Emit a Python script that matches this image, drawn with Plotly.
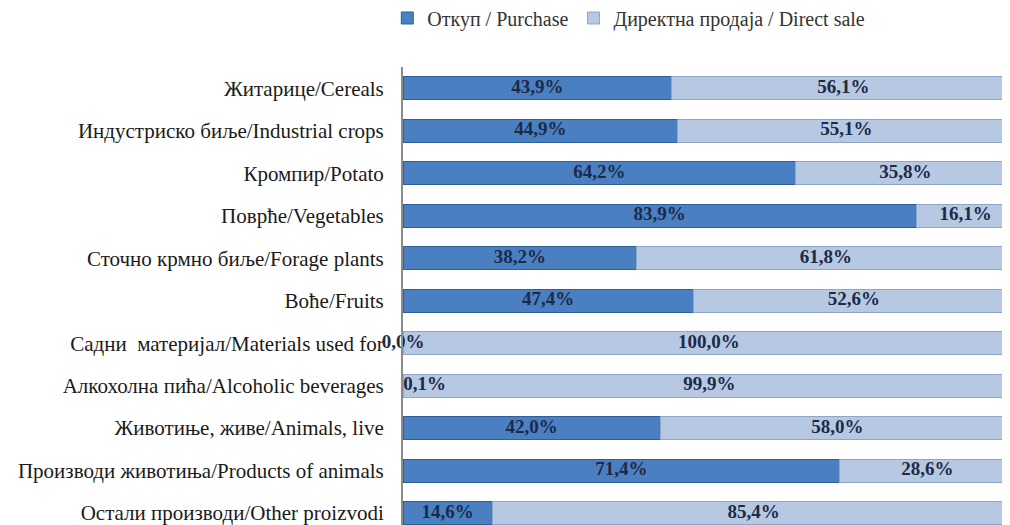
import plotly.graph_objects as go

categories = [
    "Житарице/Cereals",
    "Индустриско биље/Industrial crops",
    "Кромпир/Potato",
    "Поврће/Vegetables",
    "Сточно крмно биље/Forage plants",
    "Воће/Fruits",
    "Садни  материјал/Materials used for",
    "Алкохолна пића/Alcoholic beverages",
    "Животиње, живе/Animals, live",
    "Производи животиња/Products of animals",
    "Остали производи/Other proizvodi",
]
purchase = [43.9, 44.9, 64.2, 83.9, 38.2, 47.4, 0.0, 0.1, 42.0, 71.4, 14.6]
direct = [56.1, 55.1, 35.8, 16.1, 61.8, 52.6, 100.0, 99.9, 58.0, 28.6, 85.4]
series_names = ["Откуп / Purchase", "Директна продаја / Direct sale"]

def fmt(v):
    return f"{v:.1f}%".replace(".", ",")

label_font = dict(family="Liberation Serif", size=19, color="#1c2a48")

fig = go.Figure()
fig.add_trace(go.Bar(
    y=categories, x=purchase, orientation="h", name=series_names[0],
    marker=dict(color="#4a80c2", line=dict(color="#2f5f98", width=1)),
    hoverinfo="skip",
))
fig.add_trace(go.Bar(
    y=categories, x=direct, orientation="h", name=series_names[1],
    marker=dict(color="#b6c8e2", line=dict(color="#8ea6c8", width=1)),
    hoverinfo="skip",
))

# data labels at segment midpoints
p_mid = [p / 2 for p in purchase]
d_mid = [p + d / 2 for p, d in zip(purchase, direct)]
p_pos = ["middle right" if 0 < p < 1 else "middle center" for p in purchase]
fig.add_trace(go.Scatter(
    y=categories, x=p_mid, mode="text", text=[f"<b>{fmt(v)}</b>" for v in purchase],
    textposition=p_pos, textfont=label_font, showlegend=False, hoverinfo="skip",
    cliponaxis=False,
))
fig.add_trace(go.Scatter(
    y=categories, x=d_mid, mode="text", text=[f"<b>{fmt(v)}</b>" for v in direct],
    textposition="middle center", textfont=label_font, showlegend=False, hoverinfo="skip",
    cliponaxis=False,
))

fig.update_layout(
    width=1002, height=517,
    barmode="stack", bargap=0.46,
    paper_bgcolor="white", plot_bgcolor="white",
    margin=dict(l=395, r=0, t=59, b=0, autoexpand=False),
    font=dict(family="Liberation Serif", size=21, color="#1a1a1a"),
    legend=dict(
        orientation="h", x=0.372, xanchor="center", y=1.107, yanchor="middle",
        font=dict(family="Liberation Serif", size=20, color="#333333"),
        traceorder="normal", itemwidth=30,
    ),
    xaxis=dict(range=[0, 99.2], visible=False, fixedrange=True),
    yaxis=dict(
        type="category", range=[10.28, -0.5], showline=True, linecolor="#8c8c8c",
        linewidth=2, ticks="", showgrid=False, ticklabelstandoff=13,
        tickfont=dict(family="Liberation Serif", size=21, color="#1a1a1a"),
        fixedrange=True,
    ),
)

fig.write_html("out.html")
